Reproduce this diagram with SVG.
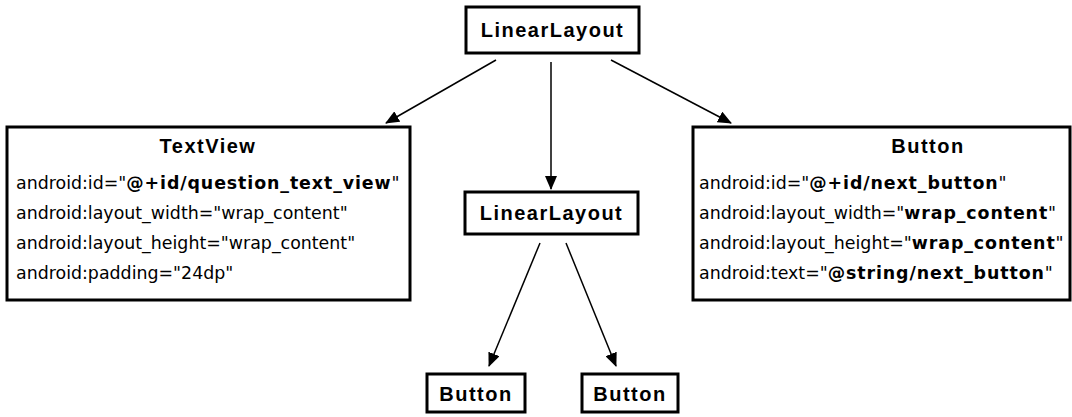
<svg xmlns="http://www.w3.org/2000/svg" width="1072" height="417" viewBox="0 0 1072 417">
<style>
.box{fill:#fff;stroke:#000;stroke-width:3}
.title{font-family:"Liberation Sans",Arial,sans-serif;font-weight:bold;font-size:20px;letter-spacing:1.5px;text-anchor:middle}
.attr{font-family:"DejaVu Sans",sans-serif;font-size:17.4px}
.b{font-weight:bold;letter-spacing:0.9px}
.edge{stroke:#000;stroke-width:1.5;fill:none;marker-end:url(#ah)}
</style>
<defs>
<marker id="ah" markerWidth="14" markerHeight="12" refX="13" refY="6" orient="auto" markerUnits="userSpaceOnUse">
<path d="M0,0 L14,6 L0,12 Z" fill="#000"/>
</marker>
</defs>
<rect width="1072" height="417" fill="#fff"/>
<g id="connectors">
<line class="edge" x1="496" y1="60" x2="386" y2="123"/>
<line class="edge" x1="551" y1="62" x2="551" y2="189"/>
<line class="edge" x1="611" y1="60" x2="731" y2="123"/>
<line class="edge" x1="540" y1="243" x2="489" y2="366"/>
<line class="edge" x1="566" y1="243" x2="616" y2="366"/>
</g>
<g id="n-root">
<rect class="box" x="466" y="7" width="173" height="46"/>
<text class="title" x="552.5" y="37">LinearLayout</text>
</g>
<g id="n-textview">
<rect class="box" x="7" y="127" width="403" height="173"/>
<text class="title" x="208" y="153">TextView</text>
<text class="attr" x="16" y="189">android:id="<tspan class="b">@+id/question_text_view</tspan>"</text>
<text class="attr" x="16" y="219">android:layout_width="wrap_content"</text>
<text class="attr" x="16" y="249">android:layout_height="wrap_content"</text>
<text class="attr" x="16" y="279">android:padding="24dp"</text>
</g>
<g id="n-mid">
<rect class="box" x="465" y="192" width="173" height="42"/>
<text class="title" x="551.5" y="220">LinearLayout</text>
</g>
<g id="n-button">
<rect class="box" x="693" y="127" width="377" height="173"/>
<text class="title" x="928" y="153">Button</text>
<text class="attr" x="699" y="189">android:id="<tspan class="b">@+id/next_button</tspan>"</text>
<text class="attr" x="699" y="219">android:layout_width="<tspan class="b">wrap_content</tspan>"</text>
<text class="attr" x="699" y="249">android:layout_height="<tspan class="b">wrap_content</tspan>"</text>
<text class="attr" x="699" y="279">android:text="<tspan class="b">@string/next_button</tspan>"</text>
</g>
<g id="n-btn1">
<rect class="box" x="427" y="374" width="98" height="38"/>
<text class="title" x="476" y="401">Button</text>
</g>
<g id="n-btn2">
<rect class="box" x="582" y="374" width="96" height="38"/>
<text class="title" x="630" y="401">Button</text>
</g>
</svg>
